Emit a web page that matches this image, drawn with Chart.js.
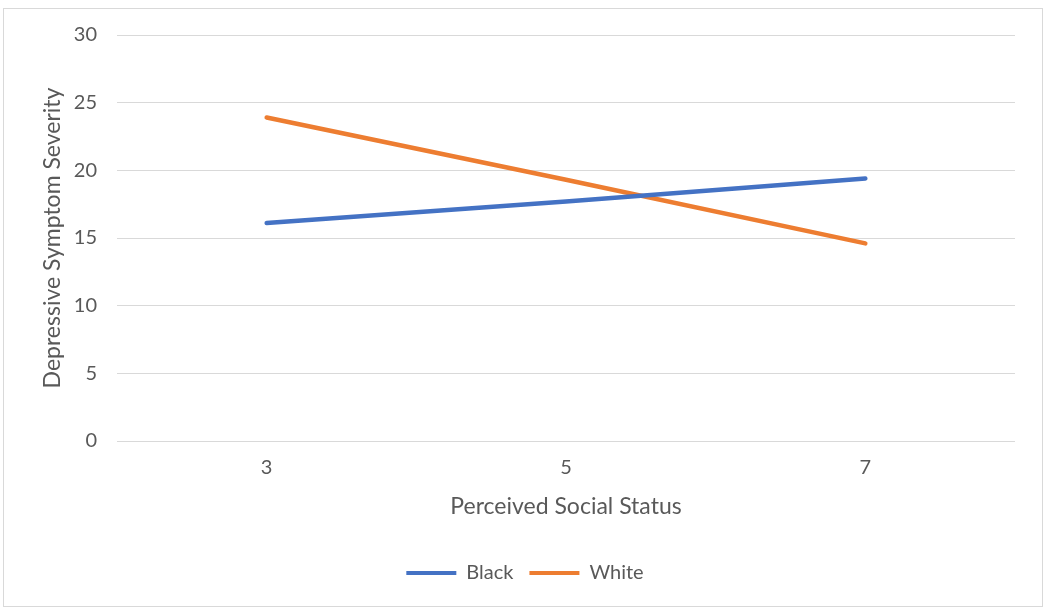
<!DOCTYPE html>
<html>
<head>
<meta charset="utf-8">
<script src="https://cdn.jsdelivr.net/npm/chart.js@4/dist/chart.umd.min.js"></script>
<style>
  html, body { margin: 0; padding: 0; background: #fff; }
  #wrap { position: relative; width: 1050px; height: 616px; }
  #frame { position: absolute; left: 3px; top: 8px; width: 1038px; height: 597px; border: 1px solid #d9d9d9; pointer-events: none; }
  canvas { position: absolute; left: 0; top: 0; }
</style>
</head>
<body>
<div id="wrap">
  <canvas id="chart" width="1050" height="616"></canvas>
  <div id="frame"></div>
</div>
<script>
const statusLevels = ["3", "5", "7"];
const blackSeverity = [16.1, 17.7, 19.4];
const whiteSeverity = [23.9, 19.3, 14.6];
const yTicks = [0, 5, 10, 15, 20, 25, 30];

const font = "Lato, 'Open Sans', sans-serif";
const grey = "#595959";

const ctx = document.getElementById("chart").getContext("2d");
const chart = new Chart(ctx, {
  type: "line",
  data: {
    labels: statusLevels,
    datasets: [
      {
        label: "Black",
        data: blackSeverity,
        borderColor: "#4472c4",
        backgroundColor: "#4472c4",
        borderWidth: 4.5,
        pointRadius: 0,
        borderCapStyle: "round",
      },
      {
        label: "White",
        data: whiteSeverity,
        borderColor: "#ed7d31",
        backgroundColor: "#ed7d31",
        borderWidth: 4.5,
        pointRadius: 0,
        borderCapStyle: "round",
      },
    ],
  },
  options: {
    responsive: false,
    animation: false,
    layout: { padding: { left: 35, top: 35, right: 35, bottom: 23 } },
    plugins: {
      tooltip: { enabled: false },
      legend: {
        position: "bottom",
        labels: {
          color: grey,
          font: { family: font, size: 20 },
          boxWidth: 50,
          boxHeight: 4,
          padding: 16,
          generateLabels: function (chart) {
            // plain coloured bar, no border
            return chart.data.datasets.map((ds, i) => ({
              text: ds.label,
              fillStyle: ds.borderColor,
              strokeStyle: ds.borderColor,
              lineWidth: 0,
              fontColor: grey,
              datasetIndex: i,
            }));
          },
        },
      },
    },
    scales: {
      x: {
        offset: true,
        grid: { display: false },
        border: { display: false },
        ticks: { color: grey, font: { family: font, size: 20 }, padding: 7 },
        title: {
          display: true,
          text: "Perceived Social Status",
          color: grey,
          font: { family: font, size: 23 },
          padding: { top: 10, bottom: 27 },
        },
        afterFit: function (scale) { scale.height = 106; },
      },
      y: {
        min: 0,
        max: 30,
        afterBuildTicks: function (scale) {
          scale.ticks = yTicks.map((v) => ({ value: v }));
        },
        grid: { color: "#d9d9d9", lineWidth: 1, drawTicks: false },
        border: { display: false },
        ticks: { color: grey, font: { family: font, size: 20 }, padding: 20 },
        title: {
          display: true,
          text: "Depressive Symptom Severity",
          color: grey,
          font: { family: font, size: 23 },
          padding: { bottom: 6 },
        },
        afterFit: function (scale) { scale.width = 82; },
      },
    },
  },
});
</script>
</body>
</html>
